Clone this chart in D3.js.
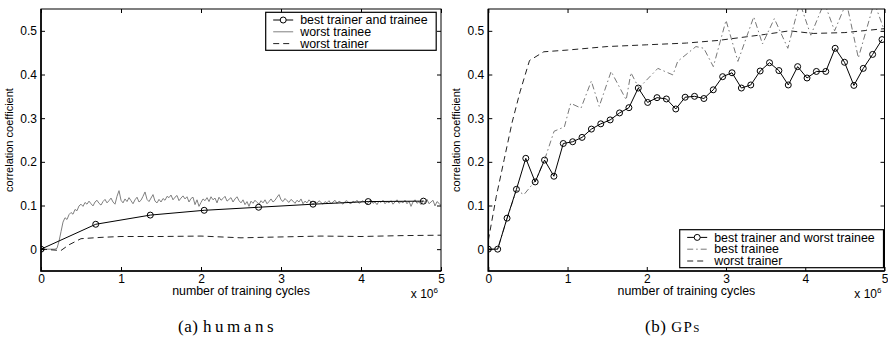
<!DOCTYPE html>
<html>
<head>
<meta charset="utf-8">
<script src="https://cdn.jsdelivr.net/npm/d3@7/dist/d3.min.js"></script>
<style>
  body { margin: 0; background: #fff; }
  text { font-family: "Liberation Sans", Arial, Helvetica, sans-serif; fill: #000; }
  .caption { font-family: "Liberation Serif", "Times New Roman", serif; }
</style>
</head>
<body>
<svg id="chart" width="888" height="339"></svg>
<script>
// values
const xTicks = [0, 1, 2, 3, 4, 5];
const yTicks = [0, 0.1, 0.2, 0.3, 0.4, 0.5];

// (a) humans
const humBestX = [0, 0.684, 1.366, 2.04, 2.72, 3.4, 4.09, 4.78];
const humBestY = [0, 0.057, 0.078, 0.089, 0.096, 0.103, 0.109, 0.11];

const humWorstTraineeStep = 0.025;
const humWorstTraineeY = [
  0, 0, 0, 0, 0, 0, 0, 0, 0.002,
  0.018, 0.04, 0.062, 0.072, 0.068, 0.079, 0.084, 0.08, 0.091, 0.088, 0.099, 0.103,
  0.098, 0.107, 0.103, 0.11, 0.104, 0.099, 0.108, 0.112, 0.105, 0.101, 0.109, 0.114, 0.106, 0.111, 0.117, 0.108, 0.103, 0.121, 0.134, 0.112,
  0.106, 0.115, 0.109, 0.118, 0.111, 0.104, 0.113, 0.119, 0.108, 0.112, 0.121, 0.131, 0.114, 0.109, 0.117, 0.125, 0.11, 0.106, 0.114, 0.108,
  0.116, 0.112, 0.121, 0.118, 0.124, 0.113, 0.119, 0.123, 0.111, 0.117, 0.122, 0.115, 0.12, 0.108, 0.116, 0.119, 0.102, 0.113, 0.098, 0.107,
  0.115, 0.111, 0.118, 0.109, 0.12, 0.113, 0.117, 0.106, 0.119, 0.112, 0.116, 0.121, 0.11, 0.114, 0.118, 0.108, 0.115, 0.12, 0.111, 0.106,
  0.113, 0.102, 0.109, 0.098, 0.11, 0.105, 0.112, 0.107, 0.103, 0.111, 0.106, 0.113, 0.104, 0.109, 0.115, 0.108, 0.112, 0.119, 0.125, 0.113,
  0.109, 0.116, 0.111, 0.107, 0.114, 0.11, 0.105, 0.112, 0.108, 0.115, 0.104, 0.11, 0.106, 0.113, 0.108, 0.102, 0.109, 0.105, 0.111, 0.107,
  0.103, 0.109, 0.106, 0.111, 0.104, 0.108, 0.112, 0.105, 0.11, 0.107, 0.103, 0.109, 0.111, 0.106, 0.104, 0.11, 0.107, 0.112, 0.105, 0.108,
  0.111, 0.106, 0.103, 0.109, 0.113, 0.105, 0.108, 0.102, 0.11, 0.107, 0.112, 0.104, 0.109, 0.106, 0.111, 0.103, 0.108, 0.113, 0.105, 0.109,
  0.106, 0.112, 0.104, 0.11, 0.098, 0.108, 0.113, 0.105, 0.109, 0.102, 0.111, 0.107, 0.114, 0.104, 0.108, 0.112, 0.099, 0.109, 0.105, 0.1
];

const humWorstTrainerX = [0, 0.25, 0.35, 0.5, 0.75, 1, 1.5, 2, 2.5, 3, 3.5, 4, 4.5, 5];
const humWorstTrainerY = [0, -0.003, 0.01, 0.024, 0.027, 0.029, 0.029, 0.03, 0.026, 0.028, 0.03, 0.029, 0.031, 0.032];

// (b) GPs
const gpBestStep = 0.1183;
const gpBestY = [
  0, 0, 0.071, 0.137, 0.208, 0.154, 0.204, 0.167, 0.242, 0.246,
  0.256, 0.275, 0.287, 0.296, 0.312, 0.324, 0.369, 0.336, 0.347, 0.344,
  0.321, 0.348, 0.35, 0.345, 0.365, 0.395, 0.404, 0.369, 0.376, 0.408,
  0.427, 0.409, 0.376, 0.418, 0.392, 0.407, 0.407, 0.46, 0.428, 0.375,
  0.414, 0.446, 0.48
];

const gpBestTraineeX = [0, 0.118, 0.237, 0.355, 0.45, 0.6, 0.72, 0.83, 0.96, 1.04, 1.17, 1.3, 1.4, 1.55, 1.74, 1.8, 1.9, 2.14, 2.33, 2.39,
  2.62, 2.72, 2.84, 3.0, 3.15, 3.35, 3.46, 3.61, 3.78, 3.93, 4.07, 4.24, 4.37, 4.52, 4.67, 4.87, 5.0];
const gpBestTraineeY = [0, 0, 0.07, 0.135, 0.125, 0.158, 0.21, 0.27, 0.28, 0.334, 0.323, 0.385, 0.327, 0.407, 0.342, 0.404, 0.369, 0.414, 0.399, 0.43,
  0.464, 0.46, 0.418, 0.524, 0.43, 0.532, 0.47, 0.528, 0.46, 0.565, 0.49, 0.565, 0.5, 0.565, 0.438, 0.565, 0.5];

const gpWorstTrainerX = [0, 0.1, 0.2, 0.3, 0.4, 0.52, 0.7, 1, 1.5, 2, 2.5, 2.9, 3.2, 3.5, 3.8, 4.1, 4.5, 5];
const gpWorstTrainerY = [0.02, 0.12, 0.205, 0.29, 0.36, 0.432, 0.452, 0.456, 0.464, 0.468, 0.472, 0.478, 0.485, 0.492, 0.5, 0.494, 0.496, 0.505];

const zip = (xs, ys) => ys.map((y, i) => [xs[i], y]);
const stepped = (step, ys) => ys.map((y, i) => [i * step, y]);

const svg = d3.select("#chart");
svg.append("rect").attr("width", 888).attr("height", 339).attr("fill", "#fff");

const styles = {
  black: { stroke: "#000", width: 1, dash: null },
  gray: { stroke: "#808080", width: 1, dash: null },
  dashed: { stroke: "#222", width: 1, dash: "6,4" },
  dashdot: { stroke: "#777", width: 1, dash: "6,3,1.5,3" },
};

function drawPanel(p) {
  const x = d3.scaleLinear().domain([0, 5]).range([p.left, p.right]);
  const y = d3.scaleLinear().domain([-0.05, 0.55]).range([271, 9]);
  const g = svg.append("g");

  const clipId = "clip-" + p.id;
  svg.append("clipPath").attr("id", clipId)
    .append("rect")
    .attr("x", p.left).attr("y", 9)
    .attr("width", p.right - p.left).attr("height", 262);

  const line = d3.line().x((d) => x(d[0])).y((d) => y(d[1]));
  const plot = g.append("g").attr("clip-path", `url(#${clipId})`);

  // draw order: background series first, marked series on top
  p.drawOrder.forEach((k) => {
    const s = p.series[k];
    const st = styles[s.style];
    plot.append("path")
      .datum(s.data)
      .attr("fill", "none")
      .attr("stroke", st.stroke)
      .attr("stroke-width", st.width)
      .attr("stroke-dasharray", st.dash)
      .attr("stroke-linejoin", "round")
      .attr("d", line);
    if (s.markers) {
      plot.selectAll(null)
        .data(s.data)
        .enter()
        .append("circle")
        .attr("cx", (d) => x(d[0]))
        .attr("cy", (d) => y(d[1]))
        .attr("r", 3)
        .attr("fill", "none")
        .attr("stroke", "#000")
        .attr("stroke-width", 1);
    }
  });

  const yFmt = (d) => (d === 0 ? "0" : d3.format(".1f")(d));
  const bottom = g.append("g").attr("transform", "translate(0,271)")
    .call(d3.axisBottom(x).tickValues(xTicks).tickFormat((d) => d).tickSizeInner(-4).tickSizeOuter(0).tickPadding(3));
  const top = g.append("g").attr("transform", "translate(0,9)")
    .call(d3.axisTop(x).tickValues(xTicks).tickFormat("").tickSizeInner(-4).tickSizeOuter(0));
  const left = g.append("g").attr("transform", `translate(${p.left},0)`)
    .call(d3.axisLeft(y).tickValues(yTicks).tickFormat(yFmt).tickSizeInner(-4).tickSizeOuter(0).tickPadding(4));
  const right = g.append("g").attr("transform", `translate(${p.right},0)`)
    .call(d3.axisRight(y).tickValues(yTicks).tickFormat("").tickSizeInner(-4).tickSizeOuter(0));
  [bottom, top, left, right].forEach((a) => {
    a.select(".domain").remove();
    a.selectAll("line").attr("stroke", "#000");
    a.selectAll("text").style("font-size", "12px").attr("fill", "#000");
  });

  g.append("rect")
    .attr("x", p.left).attr("y", 9)
    .attr("width", p.right - p.left).attr("height", 262)
    .attr("fill", "none").attr("stroke", "#000").attr("stroke-width", 1);
  g.append("path")
    .attr("d", `M${p.left},9V271H${p.right}`)
    .attr("fill", "none").attr("stroke", "#000").attr("stroke-width", 1.6);

  g.append("text")
    .attr("transform", `translate(${p.left - 28},140) rotate(-90)`)
    .attr("text-anchor", "middle")
    .style("font-size", "11px")
    .text("correlation coefficient");

  g.append("text")
    .attr("x", (p.left + p.right) / 2).attr("y", 294.5)
    .attr("text-anchor", "middle")
    .style("font-size", "12.4px")
    .text("number of training cycles");

  const mult = g.append("text")
    .attr("x", p.right - 3).attr("y", 297.5)
    .attr("text-anchor", "end")
    .style("font-size", "12px");
  mult.append("tspan").text("x 10");
  mult.append("tspan").attr("dy", -5).style("font-size", "8px").text("6");

  // legend, in the reference's order
  const lg = g.append("g");
  lg.append("rect")
    .attr("x", p.legend.x).attr("y", p.legend.y)
    .attr("width", p.legend.w).attr("height", 38)
    .attr("fill", "#fff").attr("stroke", "#000").attr("stroke-width", 1.2);
  p.series.forEach((s, i) => {
    const st = styles[s.style];
    const cy = p.legend.y + 7.7 + i * 11.8;
    const lx = p.legend.x + 7.5;
    lg.append("line")
      .attr("x1", lx).attr("x2", lx + 20)
      .attr("y1", cy).attr("y2", cy)
      .attr("stroke", st.stroke)
      .attr("stroke-width", st.width)
      .attr("stroke-dasharray", st.dash);
    if (s.markers) {
      lg.append("circle").attr("cx", lx + 10).attr("cy", cy).attr("r", 3)
        .attr("fill", "#fff").attr("stroke", "#000");
    }
    lg.append("text")
      .attr("x", lx + 27).attr("y", cy + 4.2)
      .style("font-size", "12.4px")
      .text(s.label);
  });

  const cap = g.append("text")
    .attr("class", "caption")
    .attr("x", p.capX).attr("y", 332)
    .attr("text-anchor", "middle")
    .style("font-size", "17px");
  cap.append("tspan").style("letter-spacing", "0.5px").text(p.capPre);
  cap.append("tspan")
    .style("letter-spacing", p.capSpacing)
    .style("font-variant", p.capVariant)
    .style("font-size", p.capSize)
    .text(p.capWord);
}

drawPanel({
  id: "a",
  left: 41,
  right: 441,
  legend: { x: 265.7, y: 12.3, w: 170.5 },
  series: [
    { label: "best trainer and trainee", style: "black", markers: true, data: zip(humBestX, humBestY) },
    { label: "worst trainee", style: "gray", data: stepped(humWorstTraineeStep, humWorstTraineeY) },
    { label: "worst trainer", style: "dashed", data: zip(humWorstTrainerX, humWorstTrainerY) },
  ],
  drawOrder: [1, 2, 0],
  capX: 227.5,
  capPre: "(a) ",
  capWord: "humans",
  capSpacing: "3.5px",
  capVariant: "normal",
  capSize: "17px",
});

drawPanel({
  id: "b",
  left: 488.3,
  right: 884.5,
  legend: { x: 679.7, y: 229.7, w: 203.8 },
  series: [
    { label: "best trainer and worst trainee", style: "black", markers: true, data: stepped(gpBestStep, gpBestY) },
    { label: "best trainee", style: "dashdot", data: zip(gpBestTraineeX, gpBestTraineeY) },
    { label: "worst trainer", style: "dashed", data: zip(gpWorstTrainerX, gpWorstTrainerY) },
  ],
  drawOrder: [2, 1, 0],
  capX: 673,
  capPre: "(b) ",
  capWord: "GPs",
  capSpacing: "1.5px",
  capVariant: "small-caps",
  capSize: "15px",
});
</script>
</body>
</html>
